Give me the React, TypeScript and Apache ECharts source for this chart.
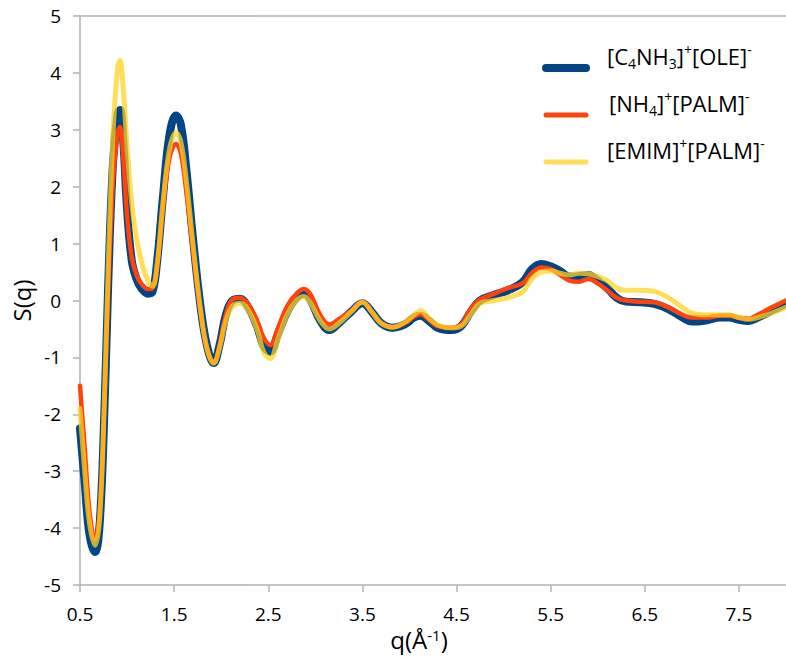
import React, { useEffect, useRef } from "react";
import * as echarts from "echarts";

const qValues = [0.5,0.55,0.6,0.66,0.71,0.76,0.8,0.85,0.9,0.925,0.96,1.0,1.05,1.1,1.15,1.22,1.27,1.32,1.38,1.45,1.52,1.57,1.63,1.7,1.78,1.85,1.92,1.98,2.05,2.12,2.2,2.28,2.38,2.45,2.52,2.6,2.7,2.8,2.88,2.95,3.05,3.15,3.25,3.38,3.5,3.6,3.7,3.82,3.95,4.05,4.12,4.2,4.3,4.45,4.55,4.65,4.75,4.9,5.05,5.2,5.3,5.4,5.5,5.6,5.7,5.8,5.9,6.0,6.1,6.2,6.3,6.45,6.6,6.75,6.9,7.0,7.15,7.3,7.4,7.5,7.6,7.7,7.85,8.0];

const sC4NH3OLE = [-2.25,-3.2,-4.1,-4.42,-3.9,-1.9,0.3,2.4,3.3,3.35,2.8,1.6,0.7,0.38,0.22,0.12,0.15,0.7,1.8,2.9,3.25,3.1,2.3,1.1,-0.1,-0.8,-1.1,-0.8,-0.25,0.0,0.03,-0.1,-0.45,-0.8,-0.9,-0.6,-0.2,0.05,0.12,0.0,-0.35,-0.52,-0.4,-0.2,-0.05,-0.2,-0.4,-0.48,-0.42,-0.3,-0.27,-0.35,-0.48,-0.52,-0.45,-0.2,0.0,0.1,0.18,0.32,0.55,0.64,0.6,0.52,0.42,0.43,0.45,0.35,0.22,0.05,-0.02,-0.03,-0.06,-0.15,-0.3,-0.37,-0.35,-0.3,-0.3,-0.34,-0.36,-0.3,-0.18,-0.05];
const sNH4PALM = [-1.5,-2.6,-3.7,-4.2,-3.7,-1.8,0.2,2.1,2.95,3.05,2.5,1.5,0.75,0.45,0.3,0.2,0.22,0.6,1.6,2.5,2.75,2.6,1.9,0.9,-0.2,-0.85,-1.1,-0.8,-0.25,0.02,0.05,-0.05,-0.35,-0.65,-0.78,-0.5,-0.1,0.12,0.2,0.1,-0.25,-0.42,-0.33,-0.18,-0.03,-0.2,-0.4,-0.47,-0.4,-0.28,-0.24,-0.33,-0.45,-0.48,-0.42,-0.15,0.02,0.12,0.22,0.3,0.48,0.58,0.55,0.45,0.35,0.33,0.38,0.3,0.18,0.05,0.0,-0.02,-0.03,-0.12,-0.25,-0.3,-0.3,-0.27,-0.27,-0.3,-0.32,-0.25,-0.12,0.0];
const sEMIMPALM = [-1.9,-3.0,-3.9,-4.3,-3.8,-1.7,0.6,2.9,4.1,4.22,3.7,2.7,1.7,1.1,0.7,0.35,0.25,0.65,1.7,2.65,2.95,2.8,2.1,1.0,-0.15,-0.85,-1.1,-0.85,-0.35,-0.1,-0.05,-0.15,-0.5,-0.9,-1.02,-0.7,-0.25,0.0,0.07,-0.05,-0.35,-0.5,-0.4,-0.2,-0.03,-0.2,-0.4,-0.47,-0.38,-0.25,-0.18,-0.3,-0.43,-0.48,-0.45,-0.25,-0.05,0.0,0.05,0.15,0.38,0.5,0.52,0.48,0.45,0.48,0.47,0.42,0.35,0.22,0.18,0.18,0.16,0.05,-0.12,-0.22,-0.25,-0.25,-0.25,-0.3,-0.33,-0.3,-0.22,-0.12];

const seriesNames = ["[C4NH3]+[OLE]-", "[NH4]+[PALM]-", "[EMIM]+[PALM]-"];
const legendRich = [
  "[C{sub|4}NH{sub|3}]{sup|+}[OLE]{sup|-}",
  "[NH{sub|4}]{sup|+}[PALM]{sup|-}",
  "[EMIM]{sup|+}[PALM]{sup|-}",
];

const FONT = "'Open Sans', sans-serif";
const BLUE = "#004586";
const ORANGE = "#FF420E";
const YELLOW = "#FFD320";

const pairs = (ys: number[]) => qValues.map((q, i) => [q, ys[i]]);

export default function App() {
  const ref = useRef<HTMLDivElement>(null);
  useEffect(() => {
    if (!ref.current) return;
    const chart = echarts.init(ref.current, null, { renderer: "svg" });
    const legendY = [68, 115, 162];
    const legendColors = [BLUE, ORANGE, YELLOW];
    const legendWidths = [8, 5, 5];
    const legendX = [607, 609, 607];
    const graphics: any[] = [];
    legendRich.forEach((t, i) => {
      graphics.push({
        type: "line",
        shape: { x1: 546, y1: legendY[i], x2: 586, y2: legendY[i] },
        style: { stroke: legendColors[i], lineWidth: legendWidths[i], lineCap: "round", opacity: i === 2 ? 0.75 : 1 },
      });
      graphics.push({
        type: "text",
        x: legendX[i],
        y: legendY[i] - 12,
        style: {
          text: t,
          fontSize: 22,
          fontFamily: FONT,
          fill: "#000",
          lineHeight: 28,
          verticalAlign: "middle",
          rich: {
            sub: { fontSize: 14, fontFamily: FONT, verticalAlign: "bottom", lineHeight: 17, fill: "#000" },
            sup: { fontSize: 14, fontFamily: FONT, verticalAlign: "top", lineHeight: 15, fill: "#000" },
          },
        },
      });
    });
    chart.setOption({
      animation: false,
      backgroundColor: "#fff",
      grid: { left: 80, right: 0, top: 16, bottom: 72, containLabel: false },
      xAxis: [
        {
          type: "value",
          min: 0.5,
          max: 8,
          interval: 1,
          name: "q(Å{sup|-1})",
          nameLocation: "middle",
          nameGap: 35,
          nameTextStyle: {
            fontSize: 24,
            fontFamily: FONT,
            color: "#000",
            padding: [0, 28, 0, 0],
            rich: { sup: { fontSize: 15, fontFamily: FONT, color: "#000", verticalAlign: "top", lineHeight: 17 } },
          },
          axisLine: { show: true, onZero: false, lineStyle: { color: "#b3b3b3", width: 1.5 } },
          axisTick: { show: true, length: 7, inside: false, lineStyle: { color: "#b3b3b3", width: 1.5 } },
          axisLabel: { fontSize: 19, fontFamily: FONT, color: "#000", margin: 19, showMaxLabel: false },
          splitLine: { show: false },
        },
        {
          type: "value",
          position: "top",
          min: 0.5,
          max: 8,
          axisLine: { show: true, onZero: false, lineStyle: { color: "#b3b3b3", width: 1.5 } },
          axisTick: { show: false },
          axisLabel: { show: false },
          splitLine: { show: false },
        },
      ],
      yAxis: {
        type: "value",
        min: -5,
        max: 5,
        interval: 1,
        name: "S(q)",
        nameLocation: "middle",
        nameGap: 45,
        nameTextStyle: { fontSize: 24, fontFamily: FONT, color: "#000" },
        axisLine: { show: true, onZero: false, lineStyle: { color: "#b3b3b3", width: 1.5 } },
        axisTick: { show: true, length: 7, lineStyle: { color: "#b3b3b3", width: 1.5 } },
        axisLabel: { fontSize: 19, fontFamily: FONT, color: "#000", margin: 19 },
        splitLine: { show: false },
      },
      series: [
        {
          name: seriesNames[0],
          type: "line",
          data: pairs(sC4NH3OLE),
          smooth: 0.4,
          showSymbol: false,
          lineStyle: { color: BLUE, width: 8, cap: "round", join: "round" },
          itemStyle: { color: BLUE },
          z: 2,
        },
        {
          name: seriesNames[1],
          type: "line",
          data: pairs(sNH4PALM),
          smooth: 0.4,
          showSymbol: false,
          lineStyle: { color: ORANGE, width: 4.5, cap: "round", join: "round" },
          itemStyle: { color: ORANGE },
          z: 3,
        },
        {
          name: seriesNames[2],
          type: "line",
          data: pairs(sEMIMPALM),
          smooth: 0.4,
          showSymbol: false,
          lineStyle: { color: YELLOW, width: 5, opacity: 0.75, cap: "round", join: "round" },
          itemStyle: { color: YELLOW },
          z: 4,
        },
      ],
      graphic: graphics,
    });
    return () => chart.dispose();
  }, []);
  return (
    <div
      ref={ref}
      style={{ position: "fixed", left: 0, top: 0, width: 786, height: 657, background: "#fff" }}
    />
  );
}
